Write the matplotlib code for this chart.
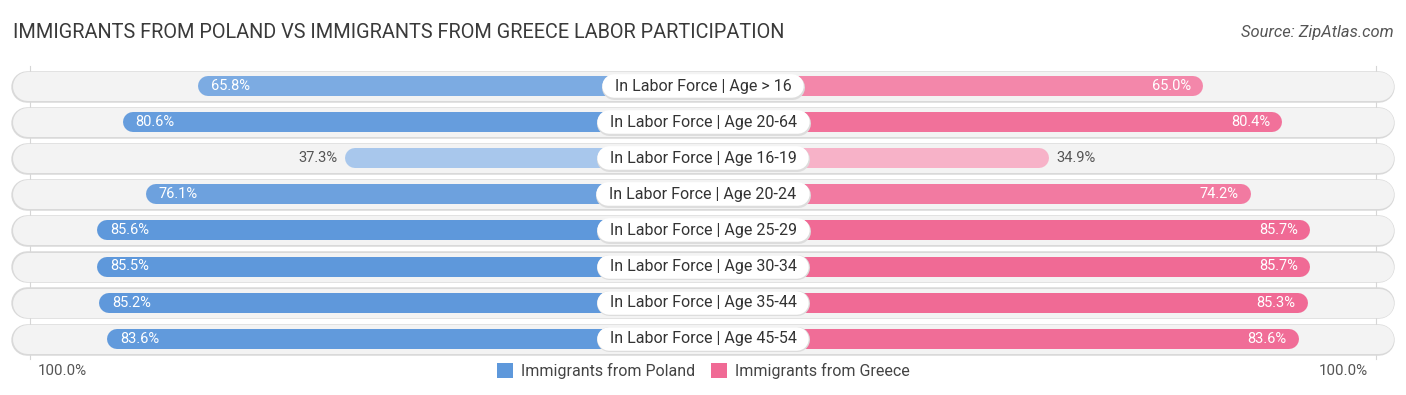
import matplotlib
matplotlib.use("Agg")
import matplotlib.pyplot as plt
from matplotlib.patches import Rectangle
import numpy as np

# ---------------- data ----------------
categories = [
    "In Labor Force | Age > 16",
    "In Labor Force | Age 20-64",
    "In Labor Force | Age 16-19",
    "In Labor Force | Age 20-24",
    "In Labor Force | Age 25-29",
    "In Labor Force | Age 30-34",
    "In Labor Force | Age 35-44",
    "In Labor Force | Age 45-54",
]
poland = [65.8, 80.6, 37.3, 76.1, 85.6, 85.5, 85.2, 83.6]
greece = [65.0, 80.4, 34.9, 74.2, 85.7, 85.7, 85.3, 83.6]
series_names = ["Immigrants from Poland", "Immigrants from Greece"]
title = "IMMIGRANTS FROM POLAND VS IMMIGRANTS FROM GREECE LABOR PARTICIPATION"
source = "Source: ZipAtlas.com"
axis_label = "100.0%"

# ---------------- style ----------------
W, H, DPI = 1406, 395, 100
PX_PER_UNIT = 5.13          # horizontal pixels per percentage point
ROW_PX = 36.1               # vertical pixels per row
OFFSET = 167 / PX_PER_UNIT  # bars start hidden behind the centre label
BLUE = np.array([0x5e, 0x98, 0xdb]) / 255
PINK = np.array([0xf0, 0x6a, 0x95]) / 255
FONT = "Roboto"

plt.rcParams["font.family"] = [FONT, "DejaVu Sans"]

def shade(base, v):
    w = min(max((85.6 - v) / 105.0, 0), 1)
    return tuple(base * (1 - w) + w)

def pt(px):
    return px * 72 / DPI

fig = plt.figure(figsize=(W / DPI, H / DPI), dpi=DPI)
ax = fig.add_axes([0, 0, 1, 1])
half = (W / 2) / PX_PER_UNIT
ax.set_xlim(-half, half)
top_row = -86 / ROW_PX
ax.set_ylim((H - 86) / ROW_PX, top_row)
ax.axis("off")

n = len(categories)
rows = np.arange(n)

# faint vertical guide lines
gx = (703 - 30) / PX_PER_UNIT
for s in (-1, 1):
    ax.plot([s * gx, s * gx], [-0.55, n - 0.45], color="#d6d6d6", lw=0.8, zorder=0)

bg_r = 15 / PX_PER_UNIT
bg_end = (703 - 12) / PX_PER_UNIT - bg_r
bar_r = 10 / PX_PER_UNIT

renderer = fig.canvas.get_renderer()

for i in rows:
    # row background (border + fill)
    ax.plot([-bg_end, bg_end], [i + 0.8 / ROW_PX, i + 0.8 / ROW_PX], color="#d9d9d9",
            lw=pt(31.5), solid_capstyle="round", zorder=1)
    ax.plot([-bg_end, bg_end], [i, i], color="#f3f3f3",
            lw=pt(29), solid_capstyle="round", zorder=2)

    pv, gv = poland[i], greece[i]
    pl = -(OFFSET + pv)
    gr = OFFSET + gv
    ax.plot([pl + bar_r, 0], [i, i], color=shade(BLUE, pv), lw=pt(20),
            solid_capstyle="round", zorder=3)
    ax.plot([0, gr - bar_r], [i, i], color=shade(PINK, gv), lw=pt(20),
            solid_capstyle="round", zorder=3)

    # value labels
    if pv >= 50:
        ax.text(pl + 13 / PX_PER_UNIT, i, f"{pv:.1f}%", ha="left", va="center",
                color="white", fontsize=10.5, zorder=5)
    else:
        ax.text(pl - 7 / PX_PER_UNIT, i, f"{pv:.1f}%", ha="right", va="center",
                color="#555555", fontsize=10.5, zorder=5)
    if gv >= 50:
        ax.text(gr - 12 / PX_PER_UNIT, i, f"{gv:.1f}%", ha="right", va="center",
                color="white", fontsize=10.5, zorder=5)
    else:
        ax.text(gr + 7 / PX_PER_UNIT, i, f"{gv:.1f}%", ha="left", va="center",
                color="#555555", fontsize=10.5, zorder=5)

    # centre category label with pill-shaped white box
    t = ax.text(0, i, categories[i], ha="center", va="center", color="#333333",
                fontsize=11.5, zorder=7)
    tw = t.get_window_extent(renderer=renderer).width / PX_PER_UNIT
    hx = tw / 2 + 1 / PX_PER_UNIT
    ax.plot([-hx, hx], [i + 0.6 / ROW_PX, i + 0.6 / ROW_PX], color="#dddddd",
            lw=pt(25), solid_capstyle="round", zorder=5)
    ax.plot([-hx, hx], [i, i], color="white", lw=pt(23.5),
            solid_capstyle="round", zorder=6)

# title and source
fig.text(13 / W, 1 - 33 / H, title, ha="left", va="center", fontsize=14.3,
         color="#3a3a3a")
fig.text(1 - 12 / W, 1 - 33 / H, source, ha="right", va="center", fontsize=11.9,
         color="#555555", style="italic")

# bottom axis labels
fig.text(38 / W, 1 - 371 / H, axis_label, ha="left", va="center", fontsize=10.9,
         color="#555555")
fig.text(1 - 38 / W, 1 - 371 / H, axis_label, ha="right", va="center", fontsize=10.9,
         color="#555555")

# legend
handles = [Rectangle((0, 0), 1, 1, fc=tuple(BLUE), ec="none"),
           Rectangle((0, 0), 1, 1, fc=tuple(PINK), ec="none")]
fig.legend(handles, series_names, loc="center", bbox_to_anchor=(0.5, 1 - 371 / H),
           ncol=2, frameon=False, fontsize=11.5, handlelength=1.0, handleheight=1.1,
           handletextpad=0.5, columnspacing=1.0, labelcolor="#444444")

fig.savefig("out.png", dpi=DPI)
